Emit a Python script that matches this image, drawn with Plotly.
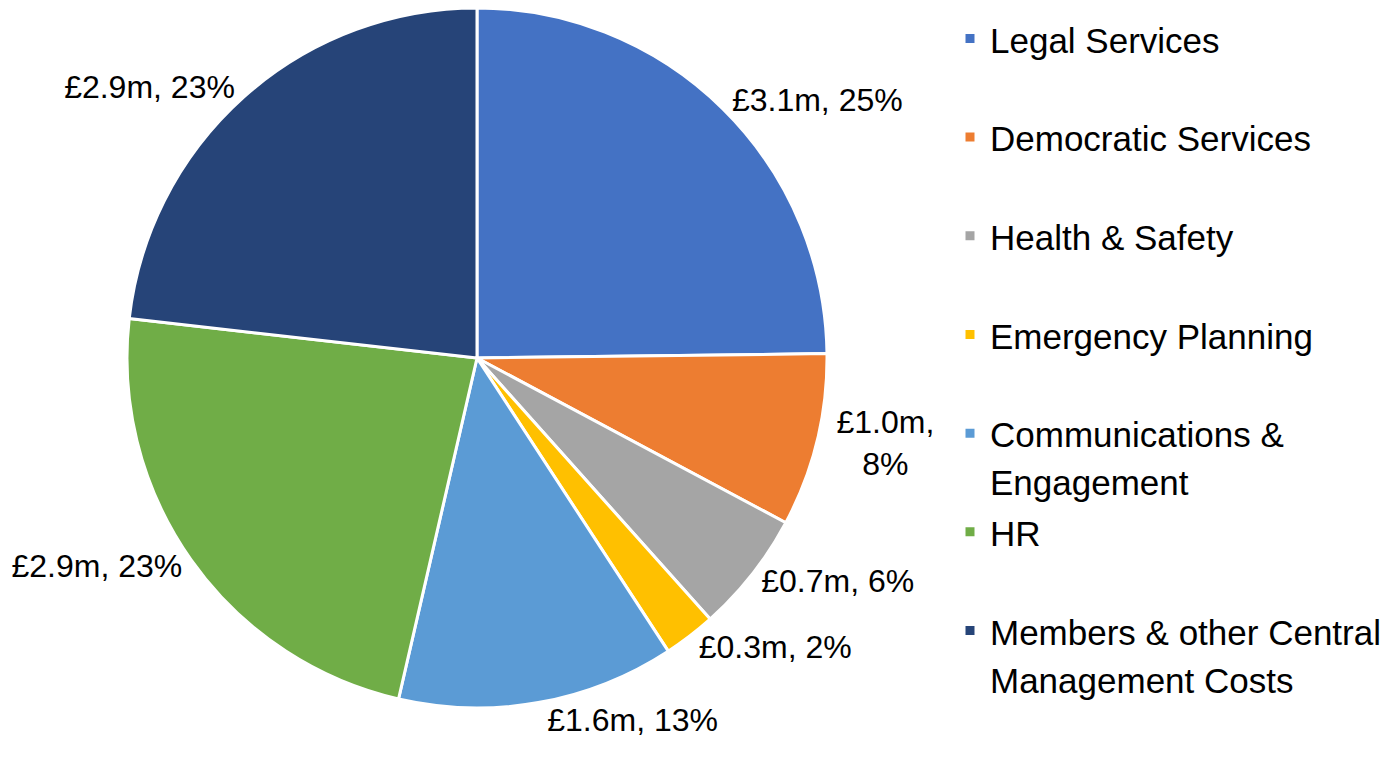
import plotly.graph_objects as go

categories = ["Legal Services", "Democratic Services", "Health & Safety",
              "Emergency Planning", "Communications &<br>Engagement", "HR",
              "Members & other Central<br>Management Costs"]
values_m = [3.1, 1.0, 0.7, 0.3, 1.6, 2.9, 2.9]
percent_labels = [25, 8, 6, 2, 13, 23, 23]
label_sep = [", ", ",<br>", ", ", ", ", ", ", ", ", ", "]
colors = ["#4472C4", "#ED7D31", "#A5A5A5", "#FFC000", "#5B9BD5", "#70AD47", "#264478"]

# legend entries padded to two lines so items are evenly spaced
legend_names = [
    '<span style="font-size:35px">' + (c if "<br>" in c else c + "<br> ") + "</span>"
    for c in categories
]
slice_text = [f"£{v:.1f}m{s}{p}%" for v, s, p in zip(values_m, label_sep, percent_labels)]

W, H = 1392, 760

fig = go.Figure(go.Pie(
    labels=legend_names,
    values=values_m,
    text=slice_text,
    textinfo="text",
    textposition="outside",
    automargin=False,
    sort=False,
    direction="clockwise",
    rotation=0,
    domain=dict(x=[0, 938 / W], y=[60 / H, 1.0]),
    marker=dict(colors=colors, line=dict(color="white", width=3)),
    outsidetextfont=dict(family="Liberation Sans, Arial", size=32, color="#000000"),
    hoverinfo="label+value+percent",
))

fig.update_layout(
    width=W, height=H,
    margin=dict(l=0, r=0, t=0, b=0),
    paper_bgcolor="white",
    plot_bgcolor="white",
    showlegend=True,
    legend=dict(
        x=942 / W, xanchor="left", y=1.0, yanchor="top",
        font=dict(family="Liberation Sans, Arial", size=36.8, color="#000000"),
        valign="top",
        bgcolor="rgba(0,0,0,0)",
    ),
)

fig.write_html("out.html")
